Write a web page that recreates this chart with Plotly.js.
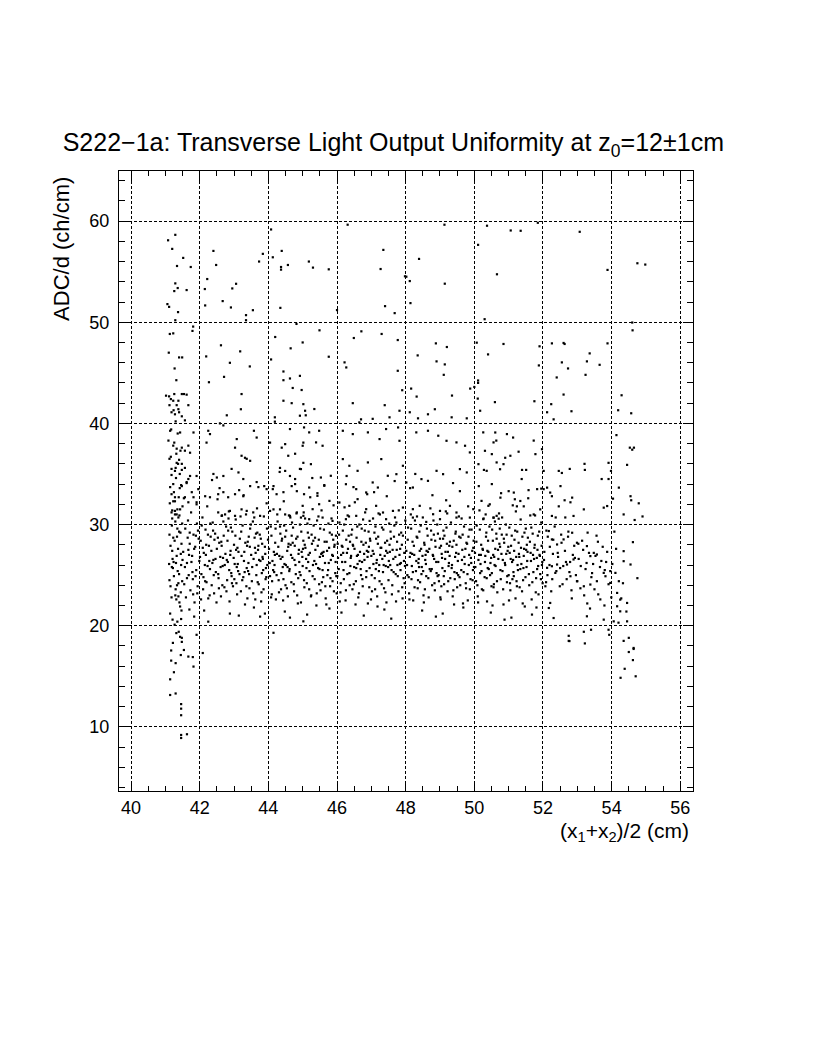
<!DOCTYPE html>
<html>
<head>
<meta charset="utf-8">
<script src="https://cdn.plot.ly/plotly-3.0.1.min.js"></script>
<style>html,body{margin:0;padding:0;background:#fff;}#chart{width:816px;height:1056px;}</style>
</head>
<body>
<div id="chart"></div>
<script>
// ---- data (x = (x1+x2)/2 in cm, y = ADC/d in ch/cm) ----
const upperLeft = [[41.29,58.64],[41.08,58.1],[41.2,57.25],[41.52,56.36],[41.34,55.56],[41.74,55.46],[42.4,57.05],[42.48,55.66],[42.22,54.27],[41.29,53.84],[41.36,53.38],[41.26,53.08],[41.62,53.18],[42.15,53.28],[43.06,53.8],[42.95,53.34],[41.06,51.79],[41.11,51.52],[41.37,51.0],[42.16,51.66],[42.67,52.09],[42.91,51.46],[43.55,51.19],[43.35,50.7],[43.35,50.2],[41.29,50.2],[43.73,56.0],[43.84,56.76],[44.08,59.17],[44.13,56.42],[44.39,57.05],[44.37,55.46],[44.37,55.2],[44.57,55.66],[45.18,56.0],[45.3,55.4],[45.76,55.23],[44.35,51.42],[44.82,49.83],[46.31,59.64],[47.35,57.15],[47.27,55.26],[47.4,51.59],[47.68,50.9],[46.0,51.2],[41.81,49.57],[41.79,49.14],[41.13,48.84],[41.23,48.9],[41.1,46.99],[41.4,46.52],[41.49,46.52],[41.27,45.43],[41.32,44.27],[42.19,46.62],[42.62,47.72],[43.18,47.12],[42.88,45.99],[43.46,45.63],[42.71,44.6],[42.27,44.07],[44.2,48.54],[45.0,48.0],[44.65,47.42],[44.08,46.32],[45.49,49.2],[45.76,46.59],[44.44,45.13],[44.92,44.7],[44.63,44.44],[44.44,44.27],[46.49,48.44],[46.71,49.1],[47.3,48.84],[47.77,48.24],[46.22,46.03],[46.27,45.53],[47.77,45.2]];
const upperRight = [[49.13,59.64],[50.37,59.54],[51.06,59.07],[51.35,59.04],[51.85,59.83],[53.07,58.94],[50.11,57.65],[48.39,56.26],[47.98,54.54],[48.02,54.5],[48.12,54.07],[50.66,54.74],[49.14,53.81],[53.88,55.17],[54.75,55.83],[54.98,55.7],[48.14,51.89],[50.3,50.3],[54.6,49.97],[54.61,49.2],[48.88,47.91],[49.2,47.55],[48.35,46.72],[48.9,46.13],[49.14,45.83],[49.11,44.8],[48.16,43.44],[47.9,43.28],[48.32,42.65],[49.35,42.75],[49.88,43.44],[50.0,43.6],[50.11,44.24],[50.11,44.0],[50.1,42.45],[50.07,47.98],[50.4,46.82],[50.85,47.85],[51.9,47.62],[51.88,45.73],[51.75,42.19],[52.26,47.91],[52.6,47.95],[52.63,47.85],[53.36,46.92],[53.28,46.13],[53.65,45.79],[52.55,46.03],[52.73,45.43],[52.4,44.54],[53.24,44.8],[53.88,47.91],[52.6,42.85],[54.29,42.78]];
const midLeft = [[41.02,42.74],[41.11,42.67],[41.23,42.24],[41.38,42.24],[41.12,41.8],[41.48,42.9],[41.54,42.9],[41.62,42.84],[41.67,41.8],[41.38,41.4],[41.4,41.1],[41.18,41.1],[41.28,40.9],[41.48,40.7],[41.57,40.3],[42.79,40.8],[43.22,42.9],[43.2,41.4],[44.44,42.24],[44.68,42.0],[45.02,41.9],[44.97,43.3],[44.71,43.5],[44.19,40.17],[41.14,39.27],[41.43,39.1],[41.82,39.1],[42.25,39.27],[42.3,38.94],[42.2,38.1],[42.59,40.0],[42.69,39.8],[43.08,38.45],[43.03,37.6],[43.22,36.8],[43.32,36.6],[43.37,36.5],[43.47,36.3],[43.58,39.27],[43.66,38.6],[41.09,38.3],[41.23,37.8],[41.33,37.5],[41.48,37.6],[41.57,37.3],[41.67,37.8],[41.72,37.1],[41.12,36.5],[41.33,36.1],[41.48,36.0],[41.57,35.6],[41.18,35.5],[41.28,35.3],[41.72,34.8],[41.67,34.5],[41.62,34.2],[41.48,33.8],[41.91,34.8],[41.96,33.5],[41.91,32.2],[41.18,33.0],[41.28,32.7],[41.23,32.3],[41.57,32.7],[41.67,32.2],[41.82,32.7],[41.28,31.35],[41.33,31.0],[41.43,31.5],[41.38,30.7],[41.18,31.2],[42.4,35.0],[42.5,34.65],[42.69,34.8],[42.93,35.5],[43.13,35.15],[43.27,34.5],[43.47,33.8],[43.66,34.2],[43.71,33.7],[42.16,32.8],[42.3,32.7],[42.54,33.0],[42.69,33.2],[42.83,32.7],[43.03,33.0],[43.27,32.8],[42.54,31.2],[42.64,30.86],[42.74,31.0],[42.88,31.35],[43.03,30.86],[43.22,31.5],[43.37,31.35],[43.56,31.2],[43.76,30.86],[43.95,33.5],[44.15,33.8],[44.24,33.0],[44.44,33.2],[44.63,34.8],[44.78,34.5],[44.68,33.8],[44.83,33.3],[44.05,31.35],[44.34,31.5],[44.49,31.0],[44.63,30.86],[44.83,31.2],[45.02,30.86],[44.34,35.6],[44.49,35.3],[44.92,35.5],[45.02,36.1],[44.78,37.0],[44.58,36.8],[44.39,37.6],[44.05,38.1],[44.49,37.95],[45.02,38.1],[44.92,40.76],[45.07,41.25],[44.63,39.44],[44.19,40.6]];
const midCenter = [[45.34,41.42],[45.09,40.8],[46.46,42.0],[46.7,40.4],[46.65,40.1],[47.39,41.8],[47.82,41.25],[48.12,41.1],[48.36,40.5],[48.65,40.9],[48.85,41.4],[49.34,40.6],[49.78,40.5],[50.17,41.25],[50.6,42.1],[47.53,40.6],[47.04,40.45],[45.04,39.6],[45.19,39.11],[45.48,39.27],[45.58,37.79],[45.39,38.12],[45.0,37.79],[46.17,39.27],[46.46,38.94],[46.9,39.11],[47.24,38.45],[47.43,39.44],[47.78,39.6],[47.82,38.28],[48.31,39.11],[48.65,39.27],[48.95,38.78],[49.19,38.28],[49.48,38.12],[49.73,37.79],[49.87,37.13],[50.26,39.11],[50.56,38.12],[50.31,37.29],[50.65,36.14],[44.95,35.48],[45.24,35.97],[45.53,34.65],[45.82,34.82],[45.63,33.83],[45.19,33.66],[45.04,33.0],[45.43,32.84],[46.17,36.47],[46.36,35.81],[46.6,35.31],[46.9,36.14],[47.29,36.47],[47.48,34.82],[47.73,34.98],[47.92,35.81],[48.02,34.16],[48.21,33.66],[48.46,34.49],[48.65,34.32],[48.9,35.31],[49.09,34.98],[49.58,35.48],[49.78,35.15],[50.12,35.97],[50.36,35.31],[46.26,33.99],[46.56,33.5],[46.85,33.17],[47.04,34.16],[47.19,33.66],[45.0,31.85],[45.29,31.52],[45.48,32.01],[45.78,32.34],[46.07,32.18],[46.36,31.85],[46.6,32.51],[46.85,31.52],[47.14,31.85],[47.34,31.19],[47.63,31.35],[47.92,31.68],[48.21,31.52],[48.41,31.85],[48.8,31.02],[49.0,31.35],[49.29,31.85],[49.48,31.19],[49.97,31.52],[50.21,32.34],[50.41,31.85],[50.65,30.86],[44.95,30.69],[45.19,30.53],[45.58,30.69],[45.87,30.36],[46.26,30.53],[46.56,30.86],[46.95,30.36],[47.43,30.53],[47.73,30.2],[48.21,30.69],[48.6,30.26],[49.0,30.53],[49.48,30.69],[49.87,30.69],[50.26,30.53],[50.56,30.69]];
const midRight = [[50.61,39.1],[50.64,38.3],[50.95,38.94],[51.13,38.6],[51.73,38.3],[51.97,37.45],[51.29,37.2],[50.51,36.96],[50.9,36.6],[51.05,36.8],[50.85,35.97],[50.75,35.47],[51.39,35.4],[51.51,35.4],[51.78,36.96],[50.51,34.0],[51.0,33.3],[51.15,33.16],[50.76,32.66],[51.34,32.33],[51.24,31.8],[51.44,31.8],[51.73,31.0],[51.92,31.5],[50.56,30.68],[50.71,30.58],[51.83,33.5],[52.24,41.9],[52.12,41.1],[52.83,41.2],[52.31,40.4],[54.19,41.3],[54.57,41.0],[54.14,38.84],[54.53,37.6],[54.6,37.4],[52.02,35.3],[52.46,35.3],[52.55,35.1],[52.78,35.5],[53.21,36.0],[53.22,35.4],[53.91,36.1],[53.98,35.3],[53.71,34.5],[53.91,34.5],[54.21,33.65],[54.04,32.56],[54.55,32.8],[54.79,32.1],[54.67,30.45],[54.35,31.0],[51.95,33.55],[52.02,33.5],[52.12,33.65],[52.21,33.16],[52.26,32.8],[52.51,33.8],[52.85,32.66],[52.8,32.2],[52.46,31.8],[52.26,30.85],[52.65,30.7],[52.89,30.85],[53.19,31.5],[53.77,31.67],[53.87,31.83],[52.17,29.36],[52.26,28.53],[52.41,28.03],[52.6,28.53],[52.85,29.19],[52.99,28.2],[53.28,27.87],[53.48,27.2],[53.38,26.88],[53.57,27.04],[52.89,26.55],[52.7,26.05],[52.41,26.05],[52.26,25.88],[52.12,25.72],[52.36,25.22],[52.8,24.89],[52.99,24.4],[53.19,23.9],[53.38,24.07],[53.57,24.4],[53.77,25.22],[53.82,24.89],[53.96,24.23],[54.11,25.22],[54.35,27.37],[54.35,26.38],[54.55,26.05],[54.62,28.26],[54.21,24.4],[54.16,23.24],[54.25,22.58],[54.45,22.25],[52.07,23.9],[52.21,22.25],[52.17,21.75],[52.31,20.76],[53.28,20.93],[53.77,20.6],[54.16,21.92],[54.25,21.42],[54.06,20.43],[54.45,20.43],[52.75,19.0],[52.75,18.5],[53.19,19.4],[53.4,19.6],[53.91,19.6],[54.5,18.8],[54.64,17.8],[52.77,18.48],[53.22,18.25],[54.64,17.7],[54.38,15.74],[54.26,14.85]];
const lowTail = [[41.32,19.27],[41.48,18.8],[41.48,18.4],[41.91,19.1],[42.09,17.3],[44.15,19.3],[41.17,17.55],[41.45,17.1],[41.54,17.6],[41.67,16.95],[41.8,16.9],[41.17,16.55],[41.3,16.3],[41.82,15.96],[41.25,15.4],[41.14,14.7],[41.14,13.15],[41.3,13.3],[41.46,12.25],[41.46,11.8],[41.46,11.15],[41.46,9.2],[41.46,8.9],[41.63,9.27],[41.46,20.66],[42.25,20.4],[43.9,21.2],[43.76,20.9],[45.02,20.43]];
const leftColumn = [[41.12,24.5],[41.15,27.9],[41.18,22.8],[41.2,30.6],[41.22,25.7],[41.25,33.2],[41.27,28.4],[41.3,23.6],[41.33,26.9],[41.35,31.5],[41.38,24.2],[41.4,29.3],[41.43,21.9],[41.45,27.1],[41.48,35.4],[41.13,32.1],[41.16,36.7],[41.19,29.9],[41.21,20.6],[41.24,26.3],[41.26,38.1],[41.29,23.0],[41.31,34.6],[41.34,28.8],[41.36,25.4],[41.39,32.7],[41.41,22.3],[41.44,37.3],[41.46,26.0],[41.49,30.1],[41.14,21.2],[41.17,39.4],[41.2,27.4],[41.23,34.0],[41.25,24.9],[41.28,31.0],[41.3,40.2],[41.32,22.6],[41.35,29.6],[41.37,36.0],[41.4,25.1],[41.42,33.6],[41.45,23.3],[41.47,28.1],[41.5,31.8],[41.12,29.0],[41.15,23.9],[41.18,34.9],[41.21,26.6],[41.24,41.3],[41.27,20.1],[41.29,30.3],[41.32,37.0],[41.34,24.0],[41.37,27.6],[41.39,19.4],[41.42,35.0],[41.44,29.2],[41.47,21.5],[41.5,26.5],[41.16,42.4],[41.22,18.3],[41.33,41.8],[41.43,18.9],[41.26,42.9],[41.36,39.0],[41.19,25.8],[41.31,26.2],[41.41,30.9],[41.14,33.7],[41.28,32.3],[41.46,33.9],[41.23,28.7],[41.38,22.9],[41.11,26.1],[41.49,24.4],[41.3,35.6],[41.2,31.4],[41.4,36.4],[41.35,20.4],[41.52,27.3],[41.55,24.1],[41.58,29.6],[41.6,22.8],[41.63,26.2],[41.66,30.4],[41.68,25.0],[41.71,28.1],[41.73,23.5],[41.75,31.2],[41.78,26.9],[41.8,24.6],[41.82,29.0],[41.85,22.3],[41.87,27.8],[41.9,25.5],[41.92,30.1],[41.94,23.9],[41.97,28.6],[41.99,26.4],[41.54,32.6],[41.62,34.1],[41.7,21.6],[41.77,33.2],[41.84,20.9],[41.91,32.0],[41.57,25.8],[41.69,27.0],[41.81,23.1],[41.95,29.4],[41.65,28.7],[41.88,24.9]];
const band42 = [[42.03,28.4],[42.05,25.1],[42.08,30.7],[42.1,23.6],[42.12,27.2],[42.15,26.0],[42.17,29.5],[42.2,24.3],[42.22,31.8],[42.25,22.7],[42.27,27.9],[42.3,25.6],[42.32,28.8],[42.35,24.0],[42.38,30.2],[42.4,26.5],[42.42,23.2],[42.45,29.1],[42.47,25.3],[42.5,27.6],[42.52,32.5],[42.55,24.7],[42.57,28.2],[42.6,26.8],[42.62,22.9],[42.65,30.9],[42.67,25.9],[42.7,28.9],[42.72,23.8],[42.75,27.1],[42.77,29.8],[42.8,24.5],[42.82,26.3],[42.85,31.3],[42.87,22.4],[42.9,27.4],[42.92,25.2],[42.95,29.3],[42.97,23.9],[43.0,28.0],[43.02,26.1],[43.05,30.5],[43.07,24.2],[43.1,27.7],[43.12,25.4],[43.15,33.4],[43.17,28.6],[43.2,23.4],[43.22,26.9],[43.25,29.9],[43.27,24.8],[43.3,27.3],[43.32,22.1],[43.35,31.0],[43.37,25.7],[43.4,28.3],[43.42,26.2],[43.45,23.7],[43.47,29.6],[43.5,27.0],[43.52,24.4],[43.55,30.3],[43.57,26.6],[43.6,28.7],[43.62,22.6],[43.65,25.0],[43.67,31.6],[43.7,27.5],[43.72,24.1],[43.75,29.0],[43.77,26.4],[43.8,23.3],[43.82,28.1],[43.85,25.5],[43.87,30.8],[43.9,27.8],[43.92,24.6],[43.95,32.1],[43.97,26.0],[43.99,28.5],[42.13,21.5],[42.58,33.6],[42.88,21.2],[43.28,32.9],[43.58,21.8],[43.88,33.8],[42.36,34.4],[43.14,21.0],[42.68,26.7],[43.44,25.1],[42.18,27.0],[42.43,28.5],[42.83,29.4],[43.08,25.8],[43.63,27.2],[43.83,26.8],[42.28,26.4],[43.38,27.9],[42.93,24.9],[43.68,29.2]];
const band44 = [[44.02,27.6],[44.05,24.9],[44.07,29.8],[44.1,23.1],[44.12,26.4],[44.15,31.5],[44.17,25.3],[44.2,28.2],[44.22,22.6],[44.25,27.1],[44.27,30.3],[44.3,24.5],[44.32,26.9],[44.35,29.1],[44.37,23.6],[44.4,28.6],[44.42,25.8],[44.45,32.3],[44.47,26.1],[44.5,24.0],[44.52,29.4],[44.55,27.4],[44.57,22.9],[44.6,30.9],[44.62,25.6],[44.65,28.0],[44.67,24.3],[44.7,26.7],[44.72,29.7],[44.75,23.4],[44.77,27.9],[44.8,25.1],[44.82,31.1],[44.85,28.8],[44.87,24.7],[44.9,26.3],[44.92,30.0],[44.95,22.3],[44.97,27.3],[45.0,25.9],[45.02,28.4],[45.05,23.8],[45.07,30.6],[45.1,26.6],[45.12,24.2],[45.15,29.2],[45.17,27.0],[45.2,25.4],[45.22,32.7],[45.25,23.0],[45.27,28.1],[45.3,26.0],[45.32,29.9],[45.35,24.6],[45.37,27.5],[45.4,22.0],[45.42,30.4],[45.45,25.7],[45.47,28.5],[45.5,26.8],[45.52,23.5],[45.55,31.4],[45.57,27.2],[45.6,24.8],[45.62,29.5],[45.65,26.2],[45.67,22.7],[45.7,28.3],[45.72,25.0],[45.75,30.1],[45.77,27.7],[45.8,23.9],[45.82,26.5],[45.85,29.0],[45.87,24.4],[45.9,31.9],[45.92,27.8],[45.95,25.2],[45.97,28.9],[45.99,23.2],[44.13,33.5],[44.48,21.4],[44.78,34.0],[45.13,21.1],[45.43,33.1],[45.78,21.7],[44.33,35.2],[45.63,33.9],[44.63,20.8],[45.28,34.6],[44.18,26.0],[44.58,27.8],[44.88,27.1],[45.18,28.7],[45.48,24.1],[45.88,26.9],[44.38,25.2],[45.08,27.7],[45.58,25.5],[44.68,28.9]];
const band46 = [[46.02,28.1],[46.05,25.6],[46.07,30.2],[46.1,23.3],[46.12,27.0],[46.15,26.3],[46.17,29.4],[46.2,24.6],[46.22,31.7],[46.25,22.5],[46.27,28.5],[46.3,25.1],[46.32,27.6],[46.35,30.8],[46.37,24.0],[46.4,26.7],[46.42,29.0],[46.45,23.6],[46.47,27.9],[46.5,25.8],[46.52,32.2],[46.55,24.4],[46.57,28.7],[46.6,26.1],[46.62,22.8],[46.65,30.0],[46.67,27.3],[46.7,25.0],[46.72,29.6],[46.75,23.9],[46.77,28.0],[46.8,26.5],[46.82,31.2],[46.85,24.8],[46.87,27.4],[46.9,22.2],[46.92,29.3],[46.95,25.7],[46.97,28.4],[47.0,26.9],[47.02,23.4],[47.05,30.6],[47.07,27.1],[47.1,24.7],[47.12,29.8],[47.15,26.2],[47.17,22.9],[47.2,28.8],[47.22,25.4],[47.25,31.0],[47.27,27.7],[47.3,24.1],[47.32,26.6],[47.35,29.5],[47.37,23.7],[47.4,28.2],[47.42,25.9],[47.45,32.8],[47.47,27.2],[47.5,24.5],[47.52,30.1],[47.55,26.0],[47.57,28.6],[47.6,23.1],[47.62,27.5],[47.65,25.3],[47.67,29.9],[47.7,26.8],[47.72,22.4],[47.75,28.3],[47.77,24.9],[47.8,31.4],[47.82,27.0],[47.85,25.5],[47.87,29.2],[47.9,23.8],[47.92,28.9],[47.95,26.4],[47.97,24.2],[47.99,30.4],[46.13,21.3],[46.48,33.7],[46.78,21.0],[47.08,33.2],[47.38,21.6],[47.68,34.3],[46.28,34.8],[47.58,20.7],[46.88,33.0],[47.18,21.9],[46.18,27.2],[46.58,26.9],[46.93,27.8],[47.23,26.0],[47.53,28.0],[47.83,26.1],[46.38,28.3],[47.13,25.6],[47.43,27.4],[46.73,26.3]];
const band48 = [[48.02,27.4],[48.05,25.0],[48.07,29.7],[48.1,23.2],[48.12,26.8],[48.15,31.0],[48.17,24.6],[48.2,28.3],[48.22,22.5],[48.25,27.0],[48.27,30.4],[48.3,25.4],[48.32,28.8],[48.35,23.7],[48.37,26.2],[48.4,29.3],[48.42,24.3],[48.45,27.6],[48.47,25.8],[48.5,30.7],[48.52,23.0],[48.55,28.0],[48.57,26.5],[48.6,24.9],[48.62,29.6],[48.65,27.3],[48.67,22.8],[48.7,25.6],[48.72,31.6],[48.75,28.5],[48.77,24.0],[48.8,26.9],[48.82,29.0],[48.85,23.5],[48.87,27.8],[48.9,25.2],[48.92,30.0],[48.95,26.3],[48.97,24.4],[49.0,28.6],[49.02,22.6],[49.05,27.1],[49.07,25.7],[49.1,29.4],[49.12,24.1],[49.15,26.6],[49.17,31.3],[49.2,28.1],[49.22,23.4],[49.25,25.9],[49.27,27.9],[49.3,24.7],[49.32,30.2],[49.35,26.0],[49.37,22.9],[49.4,28.4],[49.42,25.3],[49.45,29.1],[49.47,27.2],[49.5,23.8],[49.52,26.4],[49.55,30.8],[49.57,24.8],[49.6,28.7],[49.62,25.5],[49.65,27.5],[49.67,22.2],[49.7,29.8],[49.72,26.1],[49.75,24.2],[49.77,28.2],[49.8,25.1],[49.82,31.8],[49.85,27.0],[49.87,23.6],[49.9,26.7],[49.92,29.5],[49.95,24.5],[49.97,27.7],[49.99,25.8],[48.13,33.6],[48.48,21.5],[48.78,32.9],[49.08,21.2],[49.38,34.1],[49.68,21.8],[48.28,35.0],[49.58,33.3],[48.88,20.9],[49.18,32.4],[48.18,25.9],[48.58,27.0],[48.93,24.9],[49.23,27.3],[49.53,25.0],[49.83,28.8],[48.38,26.6],[49.13,28.9],[49.43,24.6],[48.73,25.4]];
const band50 = [[50.02,27.2],[50.05,24.4],[50.07,29.9],[50.1,22.9],[50.12,26.5],[50.15,31.4],[50.17,25.2],[50.2,28.0],[50.22,23.6],[50.25,27.5],[50.27,30.6],[50.3,24.8],[50.32,26.9],[50.35,29.2],[50.37,22.4],[50.4,28.4],[50.42,25.6],[50.45,32.0],[50.47,26.2],[50.5,23.9],[50.52,29.5],[50.55,27.0],[50.57,24.1],[50.6,30.3],[50.62,25.9],[50.65,28.6],[50.67,23.3],[50.7,26.6],[50.72,31.1],[50.75,27.8],[50.77,24.6],[50.8,29.0],[50.82,25.4],[50.85,22.1],[50.87,28.2],[50.9,26.0],[50.92,30.0],[50.95,24.3],[50.97,27.4],[51.0,25.0],[51.02,29.7],[51.05,23.5],[51.07,27.9],[51.1,26.3],[51.12,31.9],[51.15,24.9],[51.17,28.5],[51.2,22.7],[51.22,26.8],[51.25,29.3],[51.27,25.5],[51.3,27.1],[51.32,23.8],[51.35,30.5],[51.37,26.1],[51.4,28.8],[51.42,24.5],[51.45,27.6],[51.47,21.9],[51.5,29.6],[51.52,25.8],[51.55,27.3],[51.57,32.6],[51.6,24.0],[51.62,28.3],[51.65,26.4],[51.67,22.6],[51.7,29.1],[51.72,25.3],[51.75,27.7],[51.77,30.9],[51.8,24.7],[51.82,26.7],[51.85,28.9],[51.87,23.1],[51.9,27.0],[51.92,25.1],[51.95,30.2],[51.97,26.0],[51.99,24.2],[50.13,33.8],[50.48,21.3],[50.78,33.1],[51.08,20.8],[51.38,34.5],[51.68,21.1],[50.28,35.4],[51.58,33.4],[50.88,20.6],[51.18,32.5],[50.18,26.1],[50.58,26.8],[50.93,27.1],[51.23,24.4],[51.53,28.0],[51.83,25.6],[50.38,27.4],[51.13,26.5],[51.43,25.7],[50.73,28.1]];
const band52 = [[52.03,26.5],[52.1,29.4],[52.13,25.0],[52.2,27.8],[52.27,24.6],[52.3,28.5],[52.37,30.7],[52.43,27.2],[52.5,25.7],[52.53,29.0],[52.57,24.1],[52.63,32.4],[52.67,26.3],[52.73,28.8],[52.77,25.3],[52.83,23.5],[52.87,27.0],[52.93,26.7],[53.0,24.4],[53.03,28.1],[53.1,25.9],[53.17,27.5],[53.2,23.0],[53.27,26.2],[53.3,29.2],[53.37,21.7],[53.43,25.2],[53.5,23.6],[53.53,26.9],[53.6,28.3],[53.67,22.6],[53.7,26.4],[53.8,25.5],[53.87,27.3],[53.93,19.1],[53.99,22.8]];
const band54 = [[54.02,26.1],[54.08,29.3],[54.13,27.6],[54.2,20.3],[54.28,22.7],[54.33,24.2],[54.35,18.5],[54.43,21.4],[54.45,35.9],[54.5,17.4],[54.57,32.4],[54.62,16.6],[54.65,37.6],[54.7,15.0],[54.75,24.7],[54.9,30.8]];
const core42 = [[41.63,24.7],[41.71,29.2],[41.76,26.3],[41.84,27.6],[41.93,23.2],[42.01,26.8],[42.06,29.9],[42.11,24.8],[42.19,28.0],[42.23,25.9],[42.29,23.0],[42.34,27.4],[42.39,29.4],[42.41,25.0],[42.46,26.6],[42.53,28.7],[42.56,23.7],[42.61,25.8],[42.64,27.9],[42.69,30.3],[42.73,26.0],[42.78,23.4],[42.81,28.4],[42.86,25.5],[42.91,29.7],[42.94,24.2],[42.99,26.7],[43.04,28.9],[43.09,23.1],[43.13,27.3],[43.16,25.1],[43.21,29.3],[43.24,24.5],[43.29,26.4],[43.33,28.2],[43.36,23.9],[43.41,25.4],[43.46,27.8],[43.49,30.0],[43.53,25.8],[43.56,23.2],[43.61,27.7],[43.64,29.1],[43.69,24.3],[43.73,26.5],[43.78,28.6],[43.81,25.2],[43.86,23.6],[43.91,27.1],[43.96,29.6],[41.67,27.5],[41.79,25.3],[41.89,28.9],[42.04,22.6],[42.16,24.4],[42.31,30.1],[42.49,22.3],[42.66,24.0],[42.84,30.6],[43.01,24.6],[43.19,30.8],[43.39,22.7],[43.59,30.7],[43.79,22.4],[43.94,24.8],[42.09,27.7],[42.37,26.2],[42.63,28.3],[42.89,27.0],[43.11,26.1],[43.43,28.8],[43.71,27.9],[43.84,26.6],[42.24,29.0],[42.54,25.1],[42.79,26.5],[43.06,27.5],[43.31,25.3],[43.66,26.0],[43.93,25.7]];
const core44 = [[44.04,26.2],[44.09,28.9],[44.11,24.4],[44.16,27.3],[44.21,29.6],[44.24,25.0],[44.29,27.8],[44.31,23.3],[44.36,26.6],[44.39,28.4],[44.44,24.6],[44.46,29.9],[44.51,26.0],[44.54,23.7],[44.59,28.1],[44.61,25.4],[44.66,27.0],[44.69,30.2],[44.74,24.1],[44.76,26.5],[44.81,28.6],[44.84,23.0],[44.89,27.5],[44.91,25.3],[44.96,29.3],[44.99,26.8],[45.04,24.5],[45.06,28.0],[45.11,25.7],[45.14,30.1],[45.19,23.6],[45.21,27.2],[45.26,29.0],[45.29,24.9],[45.34,26.4],[45.36,28.7],[45.41,23.2],[45.44,27.9],[45.49,25.6],[45.51,29.6],[45.56,24.3],[45.59,26.9],[45.64,28.3],[45.66,23.9],[45.71,27.4],[45.74,25.5],[45.79,29.2],[45.81,24.7],[45.86,27.0],[45.89,28.5],[45.91,23.4],[45.96,26.3],[44.08,22.8],[44.26,31.0],[44.43,22.5],[44.64,30.7],[44.86,22.2],[45.03,31.2],[45.24,22.9],[45.46,30.8],[45.69,22.1],[45.84,30.6],[44.19,27.0],[44.41,26.8],[44.71,28.2],[44.94,25.0],[45.16,26.3],[45.39,26.1],[45.61,27.3],[45.93,28.0],[44.34,29.8],[44.56,25.8],[44.79,26.0],[45.01,27.6],[45.31,28.4],[45.54,27.1],[45.76,26.2],[45.98,24.9],[44.14,25.5],[44.49,28.8]];
const core46 = [[46.03,26.7],[46.06,29.0],[46.11,24.2],[46.14,27.9],[46.19,25.5],[46.21,30.0],[46.26,23.5],[46.29,27.2],[46.34,28.9],[46.36,25.2],[46.41,26.9],[46.44,29.5],[46.49,24.1],[46.51,27.6],[46.56,25.7],[46.59,29.8],[46.64,23.2],[46.66,26.4],[46.71,28.3],[46.74,24.6],[46.79,27.1],[46.81,29.4],[46.86,25.4],[46.89,26.8],[46.94,23.8],[46.96,28.6],[47.01,25.0],[47.04,27.4],[47.09,29.2],[47.11,23.6],[47.16,26.5],[47.19,28.1],[47.24,24.4],[47.26,27.0],[47.31,29.7],[47.34,25.3],[47.39,26.9],[47.41,23.3],[47.46,28.4],[47.49,25.8],[47.54,27.3],[47.56,29.3],[47.61,24.0],[47.64,26.6],[47.66,28.8],[47.71,25.1],[47.74,27.5],[47.79,23.4],[47.81,29.0],[47.86,26.2],[47.89,28.0],[47.94,24.7],[47.96,27.2],[46.08,22.4],[46.31,30.9],[46.54,22.1],[46.76,30.5],[46.99,22.6],[47.21,31.1],[47.44,22.3],[47.69,30.7],[47.91,22.7],[46.16,27.8],[46.39,25.9],[46.61,27.0],[46.84,28.2],[47.06,26.1],[47.29,27.7],[47.51,26.4],[47.76,26.0],[46.24,26.3],[46.46,28.0],[46.69,25.6],[46.91,27.3],[47.14,28.6],[47.36,26.0],[47.59,25.5],[47.84,27.6],[47.98,25.9],[46.01,24.9]];
const core48 = [[48.04,26.0],[48.06,28.5],[48.09,24.8],[48.14,27.2],[48.16,29.6],[48.21,25.3],[48.24,27.9],[48.26,23.8],[48.31,26.4],[48.34,28.7],[48.36,24.5],[48.41,27.4],[48.44,29.9],[48.46,25.1],[48.49,26.9],[48.54,28.2],[48.56,23.6],[48.59,26.1],[48.64,28.9],[48.66,24.7],[48.69,27.6],[48.74,29.4],[48.76,25.6],[48.79,27.0],[48.84,24.2],[48.86,28.4],[48.89,26.3],[48.94,29.1],[48.96,25.0],[48.99,27.7],[49.04,23.9],[49.06,26.7],[49.09,28.6],[49.14,25.4],[49.16,27.3],[49.19,29.7],[49.24,24.4],[49.26,26.2],[49.29,28.3],[49.34,25.7],[49.36,27.8],[49.39,23.5],[49.44,26.8],[49.46,29.3],[49.49,25.2],[49.54,27.1],[49.56,28.8],[49.59,24.0],[49.64,26.5],[49.66,29.0],[49.69,25.3],[49.74,27.6],[49.76,23.7],[49.79,28.1],[49.84,26.0],[49.86,29.5],[49.89,24.6],[49.94,27.4],[49.96,25.5],[49.98,28.4],[48.11,22.6],[48.33,30.8],[48.53,22.3],[48.81,30.4],[49.01,22.8],[49.21,31.1],[49.41,22.1],[49.63,30.6],[49.81,22.5],[48.19,27.1],[48.39,25.8],[48.61,27.4],[48.83,26.6],[49.03,27.9],[49.28,26.9],[49.48,28.0],[49.71,26.8],[49.91,26.2],[48.51,25.4],[49.11,24.9]];
const core50 = [[50.03,25.8],[50.06,28.3],[50.09,24.0],[50.14,27.0],[50.16,29.5],[50.21,25.4],[50.24,27.6],[50.26,23.5],[50.31,26.3],[50.34,28.8],[50.36,24.7],[50.41,27.3],[50.44,29.8],[50.46,25.0],[50.49,26.7],[50.54,28.4],[50.56,23.8],[50.59,26.0],[50.64,29.1],[50.66,24.4],[50.69,27.5],[50.74,29.6],[50.76,25.5],[50.79,27.1],[50.84,23.6],[50.86,28.6],[50.89,26.2],[50.94,29.0],[50.96,24.9],[50.99,27.8],[51.04,24.2],[51.06,26.6],[51.09,28.9],[51.14,25.3],[51.16,27.4],[51.19,29.4],[51.24,23.9],[51.26,26.0],[51.29,28.2],[51.34,25.6],[51.36,27.7],[51.39,23.4],[51.44,26.9],[51.46,29.2],[51.49,24.8],[51.54,26.4],[51.56,28.7],[51.59,25.1],[51.64,27.2],[51.66,29.7],[51.69,24.3],[51.74,26.6],[51.76,28.0],[51.79,23.3],[51.84,27.5],[51.86,25.9],[51.89,29.3],[51.94,24.6],[51.96,27.9],[51.98,26.3],[50.11,22.3],[50.33,31.0],[50.53,22.0],[50.81,30.7],[51.01,22.5],[51.21,31.3],[51.41,22.2],[51.63,30.9],[51.81,21.8],[50.19,27.0],[50.39,25.7],[50.61,27.6],[50.83,26.5],[51.03,27.2],[51.31,26.8],[51.51,27.5],[51.71,27.0],[51.91,26.9],[50.51,25.2],[51.11,24.6]];
const core52 = [[52.04,27.3],[52.09,24.3],[52.14,28.8],[52.19,26.0],[52.24,23.4],[52.29,27.1],[52.34,29.8],[52.39,25.4],[52.44,26.8],[52.49,23.9],[52.54,28.2],[52.59,25.9],[52.64,27.4],[52.69,24.6],[52.74,29.3],[52.79,26.3],[52.84,22.7],[52.91,27.9],[52.96,25.0],[53.04,26.6],[53.09,23.7],[53.14,28.4],[53.24,25.6],[53.29,22.2],[53.34,27.2],[53.41,24.8],[53.46,26.1],[53.56,28.9],[53.61,23.1],[53.66,25.8],[53.74,27.8],[53.79,22.0],[53.84,26.3],[53.91,24.1],[53.96,25.4]];

const groups = [upperLeft, upperRight, midLeft, midCenter, midRight, lowTail, leftColumn,
                band42, band44, band46, band48, band50, band52, band54,
                core42, core44, core46, core48, core50, core52];
const xs = [], ys = [];
groups.forEach(g => g.forEach(p => { xs.push(p[0]); ys.push(p[1]); }));

const FONT = 'Liberation Sans, Arial, Helvetica, sans-serif';

const trace = {
  type: 'scatter', mode: 'markers', x: xs, y: ys,
  marker: {symbol: 'square', size: 2.2, color: '#000', line: {width: 0}},
  hoverinfo: 'skip', showlegend: false
};

const axisCommon = {
  showline: true, linecolor: '#000', linewidth: 1, mirror: 'allticks',
  ticks: 'inside', tickcolor: '#000', tickwidth: 1, ticklen: 10,
  showgrid: true, gridcolor: '#000', gridwidth: 1, griddash: '3px,2px',
  zeroline: false, tickfont: {family: FONT, size: 18, color: '#000'}
};

const layout = {
  width: 816, height: 1056,
  paper_bgcolor: '#fff', plot_bgcolor: '#fff',
  margin: {l: 119, r: 123, t: 171, b: 265},
  showlegend: false,
  title: {text: 'S222\u22121a: Transverse Light Output Uniformity at z<sub>0</sub>=12\u00b11cm',
          font: {family: FONT, size: 25, color: '#000'}, x: 0.482, xanchor: 'center', y: 0.865, yanchor: 'middle'},
  xaxis: Object.assign({}, axisCommon, {range: [39.65, 56.37], dtick: 2, tick0: 40,
          minor: {dtick: 0.5, ticklen: 5, ticks: 'inside', tickcolor: '#000', showgrid: false}}),
  yaxis: Object.assign({}, axisCommon, {range: [3.66, 64.95], dtick: 10, tick0: 0, ticklabelstandoff: 5,
          minor: {dtick: 2, ticklen: 6, ticks: 'inside', tickcolor: '#000', showgrid: false}}),
  annotations: [
    {text: '(x<sub>1</sub>+x<sub>2</sub>)/2 (cm)', xref: 'paper', yref: 'paper', x: 0.997, y: -0.066,
     xanchor: 'right', yanchor: 'middle', showarrow: false, font: {family: FONT, size: 21, color: '#000'}},
    {text: 'ADC/d (ch/cm)', xref: 'paper', yref: 'paper', x: -0.099, y: 0.994, textangle: -90,
     xanchor: 'center', yanchor: 'top', showarrow: false, font: {family: FONT, size: 22, color: '#000'}}
  ]
};

Plotly.newPlot('chart', [trace], layout, {staticPlot: true, displayModeBar: false});
</script>
</body>
</html>
